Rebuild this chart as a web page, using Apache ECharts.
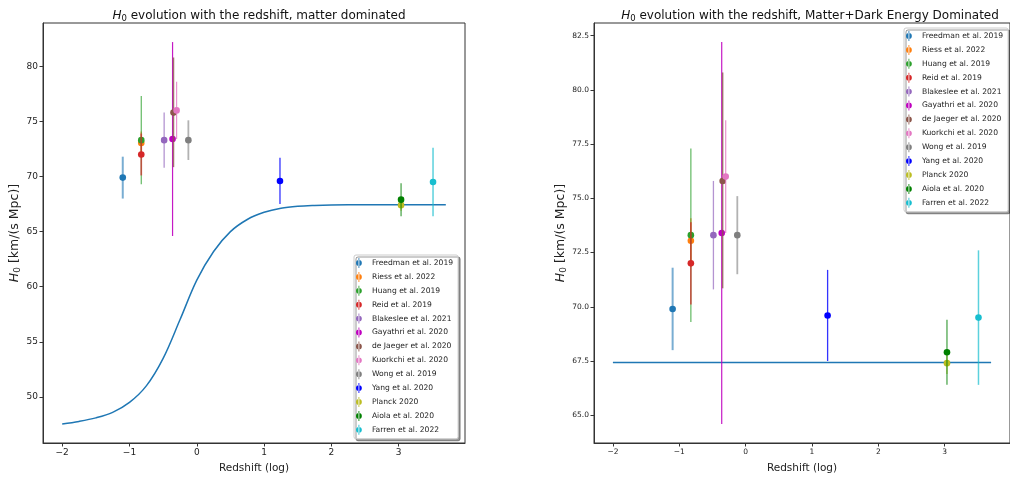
<!DOCTYPE html>
<html>
<head>
<meta charset="utf-8">
<script src="https://cdn.jsdelivr.net/npm/echarts@6/dist/echarts.min.js"></script>
<style>
html,body{margin:0;padding:0;background:#fff;}
#chart{width:1010px;height:482px;}
</style>
</head>
<body>
<div id="chart"></div>
<script>
// ---- data ----
const studies = ['Freedman et al. 2019','Riess et al. 2022','Huang et al. 2019','Reid et al. 2019','Blakeslee et al. 2021','Gayathri et al. 2020','de Jaeger et al. 2020','Kuorkchi et al. 2020','Wong et al. 2019','Yang et al. 2020','Planck 2020','Aiola et al. 2020','Farren et al. 2022'];
const logZ = [-1.1, -0.825, -0.825, -0.825, -0.485, -0.36, -0.346, -0.30, -0.125, 1.236, 3.035, 3.035, 3.51];
const h0 = [69.9, 73.04, 73.3, 72.0, 73.3, 73.4, 75.8, 76.0, 73.3, 69.6, 67.4, 67.9, 69.5];
const errLow = [1.9, 1.04, 4.0, 1.9, 2.5, 8.8, 4.95, 2.6, 1.8, 2.1, 0.5, 1.5, 3.1];
const errHigh = [1.9, 1.04, 4.0, 1.9, 2.5, 8.8, 5.0, 2.6, 1.8, 2.1, 0.5, 1.5, 3.1];
const curveX = [-2, -1.75, -1.5, -1.25, -1, -0.75, -0.5, -0.25, 0, 0.25, 0.5, 0.75, 1, 1.25, 1.5, 1.75, 2, 2.5, 3, 3.5, 3.7];
const curveMatter = [47.55, 47.78, 48.1, 48.6, 49.5, 51.0, 53.5, 57.0, 60.6, 63.2, 65.0, 66.1, 66.75, 67.12, 67.3, 67.38, 67.42, 67.44, 67.44, 67.44, 67.44];
const curveMatterDE = [67.43, 67.43, 67.43, 67.43, 67.43, 67.43, 67.43, 67.43, 67.43, 67.43, 67.43, 67.43, 67.43, 67.43, 67.43, 67.43, 67.43, 67.43, 67.43, 67.43, 67.43];
const xTicks = [-2, -1, 0, 1, 2, 3];
const yTicksLeft = [50, 55, 60, 65, 70, 75, 80];
const yTicksRight = [65, 67.5, 70, 72.5, 75, 77.5, 80, 82.5];

// ---- styles ----
const colors = ['#1f77b4','#ff7f0e','#2ca02c','#d62728','#9467bd','#bf00bf','#8c564b','#e377c2','#7f7f7f','#0000ff','#bcbd22','#008000','#17becf'];
const errWidth = [2, 1.5, 1.2, 1.7, 1.3, 1.2, 1.5, 1.2, 1.8, 1.3, 1.3, 1.2, 1.5];
const errOpacity = [0.6, 0.7, 0.75, 0.7, 0.7, 0.9, 0.8, 0.8, 0.6, 0.8, 0.7, 0.75, 0.7];
const FONT = 'DejaVu Sans';
const legendIcon = 'path://M0,6 a3.5,3.5 0 1,0 7,0 a3.5,3.5 0 1,0 -7,0 z M3,0 h1 v12 h-1 z';

const chart = echarts.init(document.getElementById('chart'), null, {renderer: 'canvas'});

function minusFmt(v){ return String(v).replace('-', '\u2212'); }

function xAxisFor(gi, fs){
  return {
    type: 'value', gridIndex: gi, min: -2.285, max: 3.985,
    name: 'Redshift (log)', nameLocation: 'middle', nameGap: 20,
    nameTextStyle: {fontFamily: FONT, fontSize: 10.5, color: '#222'},
    axisLine: {show: true, onZero: false, lineStyle: {color: '#333', width: 1}},
    axisTick: {show: true, length: 3.5, customValues: xTicks, lineStyle: {color: '#333'}},
    axisLabel: {customValues: xTicks, formatter: minusFmt, fontFamily: FONT, fontSize: fs, color: '#222', margin: 5},
    splitLine: {show: false}
  };
}
function yAxisFor(gi, mn, mx, ticks, fs, fmt, gap){
  return {
    type: 'value', gridIndex: gi, min: mn, max: mx,
    name: '{i|H}{s|0}{n| [km/(s Mpc)]}', nameLocation: 'middle', nameGap: gap, nameRotate: 90,
    nameTextStyle: {fontFamily: FONT, color: '#222', rich: {
      i: {fontFamily: FONT, fontStyle: 'italic', fontSize: 12.5, lineHeight: 15},
      s: {fontFamily: FONT, fontSize: 9, lineHeight: 9, verticalAlign: 'bottom'},
      n: {fontFamily: FONT, fontSize: 12.5, lineHeight: 15}
    }},
    axisLine: {show: true, onZero: false, lineStyle: {color: '#333', width: 1}},
    axisTick: {show: true, length: 3.5, customValues: ticks, lineStyle: {color: '#333'}},
    axisLabel: {customValues: ticks, formatter: fmt, fontFamily: FONT, fontSize: fs, color: '#222', margin: 5},
    splitLine: {show: false}
  };
}

function titleFor(text, cx){
  return {
    text: '{i|H}{s|0}{n| ' + text + '}', left: cx, top: 4, textAlign: 'center',
    textStyle: {fontFamily: FONT, fontWeight: 'normal', color: '#111', rich: {
      i: {fontFamily: FONT, fontStyle: 'italic', fontWeight: 'normal', fontSize: 12, lineHeight: 14, color: '#111'},
      s: {fontFamily: FONT, fontWeight: 'normal', fontSize: 8.5, lineHeight: 8, verticalAlign: 'bottom', color: '#111'},
      n: {fontFamily: FONT, fontWeight: 'normal', fontSize: 12, lineHeight: 14, color: '#111'}
    }}
  };
}

function legendFor(left, top){
  return {
    orient: 'vertical', left: left, top: top,
    data: studies.map(n => ({name: n, icon: legendIcon})),
    itemWidth: 16, itemHeight: 10, itemGap: 3.9,
    padding: [3, 5, 4, 2],
    textStyle: {fontFamily: FONT, fontSize: 7.6, color: '#222'},
    backgroundColor: '#fff', borderColor: '#ccc', borderWidth: 1, borderRadius: 2,
    shadowColor: 'rgba(0,0,0,0.4)', shadowBlur: 0, shadowOffsetX: 2, shadowOffsetY: 2,
    selectedMode: false
  };
}

const series = [];
[0, 1].forEach(gi => {
  series.push({
    type: 'line', xAxisIndex: gi, yAxisIndex: gi, name: 'curve' + gi,
    data: curveX.map((x, i) => [x, gi === 0 ? curveMatter[i] : curveMatterDE[i]]),
    smooth: 0.35, showSymbol: false, symbol: 'none',
    lineStyle: {color: '#1f77b4', width: 1.5}, silent: true, z: 1
  });
  studies.forEach((name, k) => {
    series.push({
      type: 'custom', name: name, xAxisIndex: gi, yAxisIndex: gi, z: 2 + k,
      itemStyle: {color: colors[k]},
      data: [[logZ[k], h0[k], h0[k] - errLow[k], h0[k] + errHigh[k]]],
      renderItem: function(params, api){
        const p = api.coord([api.value(0), api.value(1)]);
        const a = api.coord([api.value(0), api.value(2)]);
        const b = api.coord([api.value(0), api.value(3)]);
        return {type: 'group', children: [
          {type: 'line', shape: {x1: a[0], y1: a[1], x2: b[0], y2: b[1]},
           style: {stroke: colors[k], lineWidth: errWidth[k], opacity: errOpacity[k]}},
          {type: 'circle', shape: {cx: p[0], cy: p[1], r: 3.3}, style: {fill: colors[k]}}
        ]};
      }
    });
  });
});

chart.setOption({
  animation: false,
  textStyle: {fontFamily: FONT},
  title: [titleFor('evolution with the redshift, matter dominated', 254),
          titleFor('evolution with the redshift, Matter+Dark Energy Dominated', 805)],
  legend: [legendFor(354, 255), legendFor(904, 28)],
  grid: [
    {left: 43, top: 23, width: 422, height: 420, show: true, borderColor: '#333', borderWidth: 1, containLabel: false},
    {left: 594, top: 23, width: 422, height: 420, show: true, borderColor: '#333', borderWidth: 1, containLabel: false}
  ],
  xAxis: [xAxisFor(0, 9), xAxisFor(1, 7.5)],
  yAxis: [
    yAxisFor(0, 45.82, 83.93, yTicksLeft, 9, v => String(v), 14),
    yAxisFor(1, 63.72, 83.08, yTicksRight, 7.5, v => v.toFixed(1), 23)
  ],
  series: series
});
</script>
</body>
</html>
